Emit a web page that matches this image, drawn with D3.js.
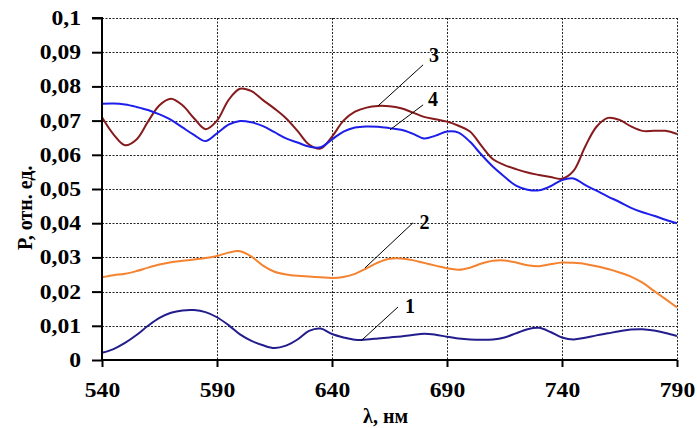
<!doctype html>
<html>
<head>
<meta charset="utf-8" />
<title>P(λ)</title>
<script src="https://cdn.jsdelivr.net/npm/d3@7/dist/d3.min.js"></script>
<style>
	body { margin: 0; background: #fff; }
	svg { display: block; }
	svg text { font-family: "Liberation Serif", "DejaVu Serif", serif !important; font-weight: bold; fill: #000; }
	.grid line { stroke: #222; stroke-width: 1; stroke-dasharray: 2,1.5; }
</style>
</head>
<body>
<div id="app"></div>
<script>
// wavelengths, nm (5 nm step)
const lambda = d3.range(540, 791, 5);

// values, x1e-3
const curve1 = [2.1, 3.2, 5.0, 7.3, 10.0, 12.3, 13.8, 14.5, 14.6, 14.0, 12.5, 10.2, 7.5, 5.6, 4.3, 3.5, 4.2, 6.0, 8.5, 9.2, 7.6,
	6.6, 5.9, 6.0, 6.3, 6.6, 6.9, 7.3, 7.7, 7.4, 6.8, 6.3, 6.0, 5.9, 6.0, 6.6, 7.8, 9.0, 9.4, 8.2, 6.6,
	6.0, 6.5, 7.2, 7.8, 8.4, 8.9, 9.0, 8.6, 7.9, 7.0];
const curve2 = [24.2, 24.8, 25.2, 26.0, 27.0, 27.9, 28.6, 29.0, 29.4, 29.8, 30.4, 31.4, 31.8, 30.2, 27.6, 25.8, 25.0, 24.6, 24.4, 24.2, 24.0,
	24.3, 25.2, 26.8, 28.5, 29.6, 29.7, 29.2, 28.4, 27.6, 26.8, 26.4, 27.0, 28.2, 29.0, 29.1, 28.5, 27.7, 27.4, 28.0, 28.5,
	28.4, 28.1, 27.4, 26.6, 25.6, 24.4, 22.6, 20.2, 17.8, 15.4];
const curve3 = [71.0, 66.0, 62.8, 64.5, 69.7, 74.5, 76.4, 74.5, 70.7, 67.5, 70.0, 76.0, 79.3, 78.6, 76.0, 73.5, 70.7, 67.0, 63.0, 61.8, 65.3,
	70.0, 72.6, 73.8, 74.3, 74.2, 73.6, 72.4, 71.1, 70.4, 69.7, 68.5, 66.8, 62.6, 58.7, 57.0, 55.8, 54.8, 54.1, 53.5, 53.0,
	55.3, 62.3, 68.2, 70.8, 70.2, 68.3, 67.0, 67.0, 67.0, 66.1];
const curve4 = [74.9, 75.0, 74.7, 74.0, 73.1, 71.8, 70.2, 68.0, 65.8, 64.0, 66.3, 68.8, 69.9, 69.5, 68.4, 66.6, 64.8, 63.6, 62.4, 62.2, 64.5,
	66.8, 68.0, 68.3, 68.2, 67.8, 67.3, 66.2, 64.8, 65.6, 66.8, 66.5, 63.8, 60.0, 56.5, 53.6, 51.0, 49.8, 49.6, 50.8, 52.6,
	53.1, 51.2, 49.5, 47.8, 46.2, 44.5, 43.2, 42.2, 41.0, 40.0];

const seriesColors = ['#221c8c', '#f5822f', '#861a1c', '#1e1eea'];

const xTicks = [540, 590, 640, 690, 740, 790];
const yTicks = d3.range(0, 0.1001, 0.01);

// curve numbers with leader lines (λ, P)
const labelText = ['3', '4', '2', '1'];
const labelPos = [[684.3, 0.0871], [683.9, 0.0743], [680.2, 0.0383], [673.9, 0.0138]];
const leaderFrom = [[679.6, 0.0863], [679.6, 0.0746], [675.2, 0.0401], [668.7, 0.0155]];
const leaderTo = [[660.0, 0.0743], [665.2, 0.0673], [654.3, 0.0269], [652.6, 0.0056]];

const W = 697, H = 428;
const margin = { top: 18, right: 20, bottom: 68, left: 102 };
const fs = 20, stretch = 1.18;

const svg = d3.select('#app').append('svg').attr('width', W).attr('height', H);

const x = d3.scaleLinear().domain([540, 790]).range([margin.left, W - margin.right]);
const y = d3.scaleLinear().domain([0, 0.1]).range([H - margin.bottom, margin.top]);

const fmt = v => (Math.round(v * 100) / 100).toString().replace('.', ',');

// grid
const grid = svg.append('g').attr('class', 'grid');
grid.selectAll('.gy').data(yTicks.slice(1)).join('line')
	.attr('x1', margin.left).attr('x2', x(790))
	.attr('y1', d => Math.round(y(d)) + 0.5).attr('y2', d => Math.round(y(d)) + 0.5);
grid.selectAll('.gx').data(xTicks.slice(1)).join('line')
	.attr('y1', y(0.1)).attr('y2', y(0))
	.attr('x1', d => Math.round(x(d)) + 0.5).attr('x2', d => Math.round(x(d)) + 0.5);

// series
const line = d3.line().x(d => x(d[0])).y(d => y(d[1])).curve(d3.curveCatmullRom.alpha(0.5));
[curve1, curve2, curve3, curve4].forEach((vals, i) => {
	const pts = lambda.map((l, j) => [l, vals[j] / 1000]);
	svg.append('path').datum(pts)
		.attr('fill', 'none')
		.attr('stroke', seriesColors[i])
		.attr('stroke-width', 2)
		.attr('d', line);
});

// axes
const yAxis = svg.append('g').attr('transform', `translate(${margin.left},0)`)
	.call(d3.axisLeft(y).tickValues(yTicks).tickFormat(fmt).tickSize(10).tickPadding(11));
const xAxis = svg.append('g').attr('transform', `translate(0,${y(0)})`)
	.call(d3.axisBottom(x).tickValues(xTicks).tickFormat(d3.format('d')).tickSize(7).tickPadding(16));
[xAxis, yAxis].forEach(a => {
	a.attr('font-family', null).attr('font-size', null);
	a.select('.domain').attr('stroke', '#000').attr('stroke-width', 2);
	a.selectAll('.tick line').attr('stroke', '#000').attr('stroke-width', 2);
	a.selectAll('text').style('font-size', fs + 'px');
});
// the reference digits are a little wider than the font
yAxis.selectAll('text').attr('transform', `translate(-21,0) scale(${stretch},1) translate(21,0)`);
xAxis.selectAll('text').attr('transform', `scale(${stretch},1)`);
yAxis.select('.domain').attr('d', `M-10,${y(0.1)}H0V${y(0)}`);
xAxis.select('.domain').attr('d', `M${x(540)},0H${x(790)}`);

// axis titles
svg.append('text').attr('x', x(663.3)).attr('y', 423).attr('text-anchor', 'middle')
	.style('font-size', fs + 'px').text('λ, нм');
svg.append('text').attr('transform', `translate(32,${y(0.0445)}) rotate(-90)`).attr('text-anchor', 'middle')
	.style('font-size', fs + 'px').text('Р, отн. ед.');

// leader lines and curve numbers
labelText.forEach((t, i) => {
	svg.append('line')
		.attr('x1', x(leaderFrom[i][0])).attr('y1', y(leaderFrom[i][1]))
		.attr('x2', x(leaderTo[i][0])).attr('y2', y(leaderTo[i][1]))
		.attr('stroke', '#000').attr('stroke-width', 1);
	svg.append('text').attr('x', x(labelPos[i][0])).attr('y', y(labelPos[i][1]))
		.attr('text-anchor', 'middle').style('font-size', fs + 'px').text(t);
});
</script>
</body>
</html>
